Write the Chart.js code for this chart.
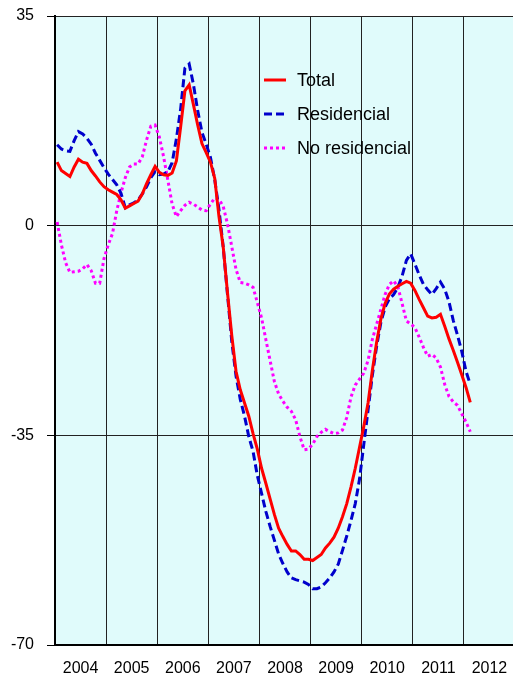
<!DOCTYPE html>
<html>
<head>
<meta charset="utf-8">
<script src="https://cdn.jsdelivr.net/npm/chart.js@4/dist/chart.umd.min.js"></script>
<style>
  html, body { margin: 0; padding: 0; background: #fff; overflow: hidden; }
  #wrap { width: 529px; height: 675px; }
</style>
</head>
<body>
<div id="wrap"><canvas id="chart" width="529" height="675"></canvas></div>
<script>
// year labels (one per year, centred in the year band)
const years = ["2004", "2005", "2006", "2007", "2008", "2009", "2010", "2011", "2012"];

// monthly values, Jan 2004 .. Feb 2012
const total = [
  10.6, 9.2, 8.7, 8.2, 9.8, 11.1, 10.6, 10.4, 9.2, 8.3, 7.3, 6.5,
  6.0, 5.6, 5.2, 4.3, 2.9, 3.3, 3.7, 4.1, 5.3, 7.0, 8.5, 9.9,
  8.9, 8.5, 8.4, 8.8, 10.8, 16.5, 22.5, 23.5, 20.2, 16.8, 13.7, 12.2,
  10.6, 7.9, 1.5, -3.6, -11.2, -18.3, -24.3, -27.4, -29.6, -31.8, -34.7, -37.3,
  -40.5, -43.0, -45.6, -48.2, -50.5, -51.9, -53.2, -54.3, -54.3, -54.9, -55.7, -55.7,
  -55.9, -55.4, -54.9, -53.8, -53.0, -52.0, -50.5, -48.6, -46.4, -43.6, -40.5, -37.0,
  -33.5, -29.6, -24.2, -19.5, -15.6, -13.0, -11.4, -10.6, -10.1, -9.7, -9.3, -9.6,
  -10.8, -12.3, -13.7, -15.1, -15.4, -15.3, -14.8, -16.8, -18.9, -20.8, -22.8, -24.9,
  -27.0, -29.5
];

const residencial = [
  13.5, 12.8, 12.5, 12.4, 14.2, 15.7, 15.3, 14.6, 13.6, 12.1, 10.9, 9.7,
  8.6, 7.7, 6.8, 5.4, 3.0, 3.5, 3.8, 4.3, 5.3, 6.5, 8.0, 9.0,
  8.5, 8.6, 9.0, 10.5, 14.5, 19.5, 26.3, 27.0, 23.6, 19.2, 15.6, 13.6,
  11.4, 7.7, 2.7, -3.6, -11.5, -19.3, -25.1, -29.0, -31.8, -35.2, -37.7, -41.7,
  -44.7, -47.7, -50.2, -52.5, -54.8, -56.4, -57.8, -58.8, -59.1, -59.3, -59.5, -59.9,
  -60.6, -60.6, -60.3, -59.6, -58.8, -57.8, -56.5, -54.2, -51.8, -49.2, -46.4, -42.3,
  -36.5, -30.8, -25.0, -20.2, -16.2, -13.6, -12.2, -11.5, -10.3, -8.4, -5.8, -4.7,
  -6.4, -8.2, -9.8, -10.7, -11.5, -10.5, -9.4, -10.6, -12.7, -15.8, -18.3, -21.0,
  -24.3, -26.5
];

const noResidencial = [
  0.6, -3.2, -6.2, -7.8, -7.7, -7.6, -7.2, -6.5, -7.5, -9.6, -9.6, -5.5,
  -3.2, -1.3, 2.5, 5.5, 8.0, 9.8, 10.3, 10.3, 11.5, 14.3, 16.6, 16.8,
  14.8, 11.5, 7.6, 3.6, 1.5, 2.5, 3.4, 3.9, 3.6, 3.1, 2.6, 2.5,
  3.6, 4.6, 4.4, 3.2, 0.3, -3.5, -7.3, -9.5, -9.6, -9.9, -10.3, -12.8,
  -15.4, -19.0, -22.5, -26.0, -28.1, -29.3, -30.3, -31.0, -32.4, -35.2, -37.4, -37.3,
  -36.5, -35.2, -34.5, -34.0, -34.4, -34.7, -34.6, -34.1, -32.0, -28.6, -26.6, -25.6,
  -24.6, -22.5, -19.0, -16.5, -14.0, -11.5, -9.8, -9.2, -10.2, -13.0, -15.9, -16.4,
  -17.0, -18.6, -20.3, -21.8, -21.5, -22.1, -23.6, -26.5, -28.5, -29.4, -30.0, -31.4,
  -32.8, -34.4
];

const yTicks = [-70, -35, 0, 35];

// each monthly value sits in the middle of its month
function toPoints(values) {
  return values.map((v, i) => ({ x: i + 0.5, y: v }));
}

// light cyan plot background
const plotBackground = {
  id: "plotBackground",
  beforeDraw(chart) {
    const { ctx, chartArea } = chart;
    ctx.save();
    ctx.fillStyle = "#e0fbfb";
    ctx.fillRect(chartArea.left, chartArea.top, chartArea.right - chartArea.left, chartArea.bottom - chartArea.top);
    ctx.restore();
  },
};

// legend drawn inside the plot, as in the original
const innerLegend = {
  id: "innerLegend",
  afterDraw(chart) {
    const ctx = chart.ctx;
    ctx.save();
    ctx.font = "18px 'Liberation Sans', Arial, sans-serif";
    ctx.textBaseline = "middle";
    chart.data.datasets.forEach((ds, i) => {
      const y = 80 + i * 34;
      ctx.strokeStyle = ds.borderColor;
      ctx.lineWidth = 3;
      ctx.setLineDash(ds.borderDash || []);
      ctx.beginPath();
      ctx.moveTo(264, y);
      ctx.lineTo(286, y);
      ctx.stroke();
      ctx.setLineDash([]);
      ctx.fillStyle = "#000";
      ctx.fillText(ds.label, 297, y + 1);
    });
    ctx.restore();
  },
};

const ctx = document.getElementById("chart").getContext("2d");
new Chart(ctx, {
  type: "line",
  data: {
    datasets: [
      {
        label: "Total",
        data: toPoints(total),
        borderColor: "#ff0000",
        borderWidth: 3,
        pointRadius: 0,
        tension: 0,
        order: 1,
      },
      {
        label: "Residencial",
        data: toPoints(residencial),
        borderColor: "#0000cc",
        borderWidth: 3,
        borderDash: [8, 4],
        pointRadius: 0,
        tension: 0,
        order: 2,
      },
      {
        label: "No residencial",
        data: toPoints(noResidencial),
        borderColor: "#ff00ff",
        borderWidth: 3,
        borderDash: [3, 3],
        pointRadius: 0,
        tension: 0,
        order: 3,
      },
    ],
  },
  options: {
    responsive: false,
    animation: false,
    layout: { padding: { top: 16, right: 3, bottom: 0, left: 0 } },
    plugins: {
      legend: { display: false },
      tooltip: { enabled: false },
    },
    scales: {
      x: {
        type: "linear",
        min: 0,
        max: 108,
        afterBuildTicks(scale) {
          const ticks = [];
          for (let v = 0; v <= 108; v += 6) ticks.push({ value: v });
          scale.ticks = ticks;
        },
        afterFit(scale) { scale.height = 30; },
        ticks: {
          autoSkip: false,
          maxRotation: 0,
          padding: 14,
          color: "#000",
          font: { family: "'Liberation Sans', Arial, sans-serif", size: 16 },
          callback(value) {
            if (value % 12 === 6) return years[(value - 6) / 12];
            return "";
          },
        },
        grid: {
          drawTicks: false,
          lineWidth: 1,
          color(c) {
            return c.tick && c.tick.value % 12 === 0 ? "#222" : "rgba(0,0,0,0)";
          },
        },
        border: { display: true, color: "#000", width: 2 },
      },
      y: {
        min: -70,
        max: 35,
        afterBuildTicks(scale) {
          scale.ticks = yTicks.map((v) => ({ value: v }));
        },
        afterFit(scale) {
          scale.width = 55;
          // label padding would otherwise push the plot top down
          scale.paddingTop = 0;
          scale.paddingBottom = 0;
        },
        ticks: {
          padding: 13,
          color: "#000",
          font: { family: "'Liberation Sans', Arial, sans-serif", size: 16 },
        },
        grid: {
          color: "#222",
          lineWidth: 1,
          borderDash: [7, 3],
          tickLength: 8,
          tickBorderDash: [100, 0],
          tickColor: "#000",
        },
        border: { display: true, color: "#000", width: 2 },
      },
    },
  },
  plugins: [plotBackground, innerLegend],
});
</script>
</body>
</html>
